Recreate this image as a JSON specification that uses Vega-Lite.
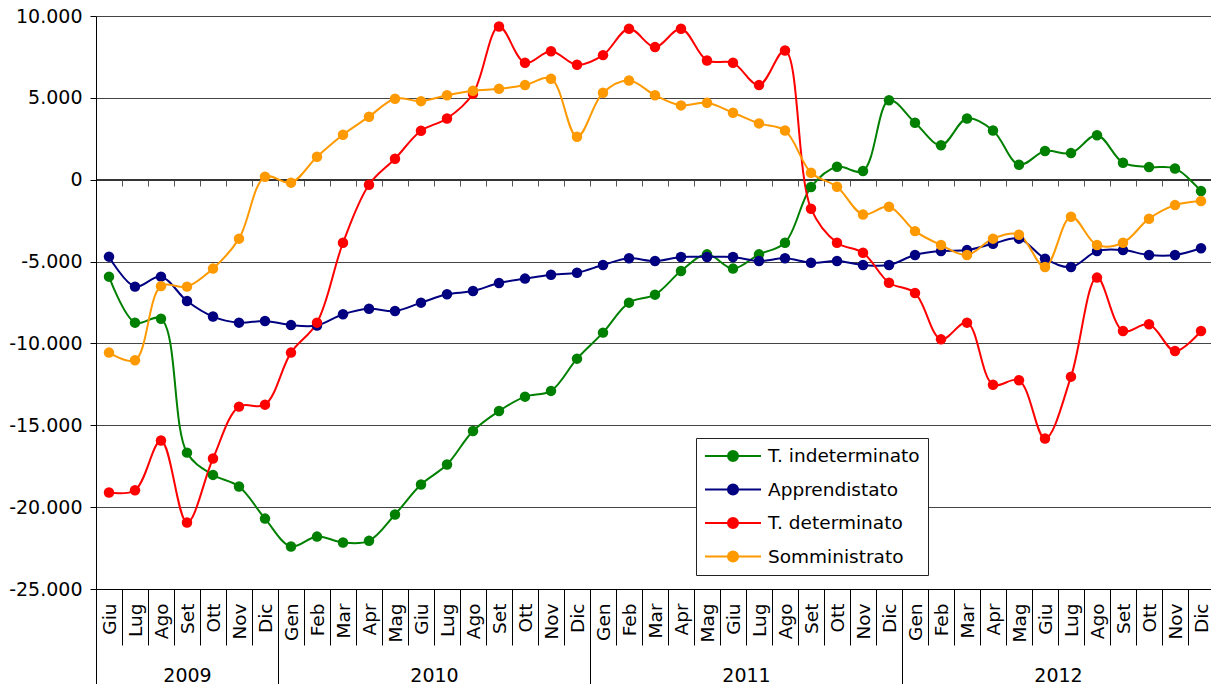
{
  "$schema": "https://vega.github.io/schema/vega-lite/v6.json",
  "autosize": "none",
  "width": 1118,
  "height": 573,
  "padding": {"left": 96, "top": 16, "right": 0, "bottom": 100},
  "background": "white",
  "config": {
    "view": {"stroke": null},
    "font": "DejaVu Sans",
    "axisY": {
      "grid": true, "gridColor": "#444444", "gridWidth": 1,
      "domainColor": "black", "tickColor": "black", "tickSize": 6,
      "labelFont": "DejaVu Sans", "labelFontSize": 19, "labelColor": "black",
      "labelPadding": 8, "title": null
    },
    "axisX": {"grid": false, "title": null}
  },
  "datasets": {
    "anni": [
      {"anno": "2009", "da": -0.5, "a": 6.5},
      {"anno": "2010", "da": 6.5, "a": 18.5},
      {"anno": "2011", "da": 18.5, "a": 30.5},
      {"anno": "2012", "da": 30.5, "a": 42.5}
    ],
    "serie": [
      {"i":0,"s":"T. indeterminato","v":-5920},{"i":1,"s":"T. indeterminato","v":-8730},{"i":2,"s":"T. indeterminato","v":-8490},{"i":3,"s":"T. indeterminato","v":-16670},{"i":4,"s":"T. indeterminato","v":-18030},{"i":5,"s":"T. indeterminato","v":-18740},{"i":6,"s":"T. indeterminato","v":-20700},{"i":7,"s":"T. indeterminato","v":-22400},{"i":8,"s":"T. indeterminato","v":-21800},{"i":9,"s":"T. indeterminato","v":-22160},{"i":10,"s":"T. indeterminato","v":-22060},{"i":11,"s":"T. indeterminato","v":-20450},{"i":12,"s":"T. indeterminato","v":-18620},{"i":13,"s":"T. indeterminato","v":-17400},{"i":14,"s":"T. indeterminato","v":-15350},{"i":15,"s":"T. indeterminato","v":-14130},{"i":16,"s":"T. indeterminato","v":-13250},{"i":17,"s":"T. indeterminato","v":-12900},{"i":18,"s":"T. indeterminato","v":-10930},{"i":19,"s":"T. indeterminato","v":-9340},{"i":20,"s":"T. indeterminato","v":-7510},{"i":21,"s":"T. indeterminato","v":-7020},{"i":22,"s":"T. indeterminato","v":-5580},{"i":23,"s":"T. indeterminato","v":-4560},{"i":24,"s":"T. indeterminato","v":-5430},{"i":25,"s":"T. indeterminato","v":-4560},{"i":26,"s":"T. indeterminato","v":-3850},{"i":27,"s":"T. indeterminato","v":-450},{"i":28,"s":"T. indeterminato","v":790},{"i":29,"s":"T. indeterminato","v":530},{"i":30,"s":"T. indeterminato","v":4850},{"i":31,"s":"T. indeterminato","v":3480},{"i":32,"s":"T. indeterminato","v":2110},{"i":33,"s":"T. indeterminato","v":3740},{"i":34,"s":"T. indeterminato","v":3010},{"i":35,"s":"T. indeterminato","v":915},{"i":36,"s":"T. indeterminato","v":1750},{"i":37,"s":"T. indeterminato","v":1625},{"i":38,"s":"T. indeterminato","v":2720},{"i":39,"s":"T. indeterminato","v":1040},{"i":40,"s":"T. indeterminato","v":770},{"i":41,"s":"T. indeterminato","v":690},{"i":42,"s":"T. indeterminato","v":-695},
      {"i":0,"s":"Apprendistato","v":-4700},{"i":1,"s":"Apprendistato","v":-6530},{"i":2,"s":"Apprendistato","v":-5920},{"i":3,"s":"Apprendistato","v":-7410},{"i":4,"s":"Apprendistato","v":-8360},{"i":5,"s":"Apprendistato","v":-8730},{"i":6,"s":"Apprendistato","v":-8630},{"i":7,"s":"Apprendistato","v":-8880},{"i":8,"s":"Apprendistato","v":-8900},{"i":9,"s":"Apprendistato","v":-8220},{"i":10,"s":"Apprendistato","v":-7880},{"i":11,"s":"Apprendistato","v":-8020},{"i":12,"s":"Apprendistato","v":-7510},{"i":13,"s":"Apprendistato","v":-7000},{"i":14,"s":"Apprendistato","v":-6800},{"i":15,"s":"Apprendistato","v":-6310},{"i":16,"s":"Apprendistato","v":-6040},{"i":17,"s":"Apprendistato","v":-5800},{"i":18,"s":"Apprendistato","v":-5680},{"i":19,"s":"Apprendistato","v":-5210},{"i":20,"s":"Apprendistato","v":-4800},{"i":21,"s":"Apprendistato","v":-4970},{"i":22,"s":"Apprendistato","v":-4720},{"i":23,"s":"Apprendistato","v":-4720},{"i":24,"s":"Apprendistato","v":-4720},{"i":25,"s":"Apprendistato","v":-4970},{"i":26,"s":"Apprendistato","v":-4800},{"i":27,"s":"Apprendistato","v":-5070},{"i":28,"s":"Apprendistato","v":-4970},{"i":29,"s":"Apprendistato","v":-5210},{"i":30,"s":"Apprendistato","v":-5210},{"i":31,"s":"Apprendistato","v":-4600},{"i":32,"s":"Apprendistato","v":-4360},{"i":33,"s":"Apprendistato","v":-4300},{"i":34,"s":"Apprendistato","v":-3910},{"i":35,"s":"Apprendistato","v":-3600},{"i":36,"s":"Apprendistato","v":-4820},{"i":37,"s":"Apprendistato","v":-5330},{"i":38,"s":"Apprendistato","v":-4360},{"i":39,"s":"Apprendistato","v":-4300},{"i":40,"s":"Apprendistato","v":-4600},{"i":41,"s":"Apprendistato","v":-4600},{"i":42,"s":"Apprendistato","v":-4190},
      {"i":0,"s":"T. determinato","v":-19110},{"i":1,"s":"T. determinato","v":-18970},{"i":2,"s":"T. determinato","v":-15930},{"i":3,"s":"T. determinato","v":-20940},{"i":4,"s":"T. determinato","v":-17030},{"i":5,"s":"T. determinato","v":-13860},{"i":6,"s":"T. determinato","v":-13740},{"i":7,"s":"T. determinato","v":-10560},{"i":8,"s":"T. determinato","v":-8730},{"i":9,"s":"T. determinato","v":-3850},{"i":10,"s":"T. determinato","v":-305},{"i":11,"s":"T. determinato","v":1280},{"i":12,"s":"T. determinato","v":2990},{"i":13,"s":"T. determinato","v":3740},{"i":14,"s":"T. determinato","v":5250},{"i":15,"s":"T. determinato","v":9360},{"i":16,"s":"T. determinato","v":7140},{"i":17,"s":"T. determinato","v":7850},{"i":18,"s":"T. determinato","v":7020},{"i":19,"s":"T. determinato","v":7610},{"i":20,"s":"T. determinato","v":9220},{"i":21,"s":"T. determinato","v":8100},{"i":22,"s":"T. determinato","v":9220},{"i":23,"s":"T. determinato","v":7280},{"i":24,"s":"T. determinato","v":7140},{"i":25,"s":"T. determinato","v":5780},{"i":26,"s":"T. determinato","v":7890},{"i":27,"s":"T. determinato","v":-1770},{"i":28,"s":"T. determinato","v":-3850},{"i":29,"s":"T. determinato","v":-4460},{"i":30,"s":"T. determinato","v":-6290},{"i":31,"s":"T. determinato","v":-6920},{"i":32,"s":"T. determinato","v":-9750},{"i":33,"s":"T. determinato","v":-8730},{"i":34,"s":"T. determinato","v":-12520},{"i":35,"s":"T. determinato","v":-12250},{"i":36,"s":"T. determinato","v":-15810},{"i":37,"s":"T. determinato","v":-12030},{"i":38,"s":"T. determinato","v":-5980},{"i":39,"s":"T. determinato","v":-9240},{"i":40,"s":"T. determinato","v":-8830},{"i":41,"s":"T. determinato","v":-10460},{"i":42,"s":"T. determinato","v":-9240},
      {"i":0,"s":"Somministrato","v":-10560},{"i":1,"s":"Somministrato","v":-11030},{"i":2,"s":"Somministrato","v":-6500},{"i":3,"s":"Somministrato","v":-6530},{"i":4,"s":"Somministrato","v":-5430},{"i":5,"s":"Somministrato","v":-3600},{"i":6,"s":"Somministrato","v":180},{"i":7,"s":"Somministrato","v":-180},{"i":8,"s":"Somministrato","v":1400},{"i":9,"s":"Somministrato","v":2750},{"i":10,"s":"Somministrato","v":3850},{"i":11,"s":"Somministrato","v":4950},{"i":12,"s":"Somministrato","v":4800},{"i":13,"s":"Somministrato","v":5160},{"i":14,"s":"Somministrato","v":5430},{"i":15,"s":"Somministrato","v":5550},{"i":16,"s":"Somministrato","v":5780},{"i":17,"s":"Somministrato","v":6170},{"i":18,"s":"Somministrato","v":2620},{"i":19,"s":"Somministrato","v":5310},{"i":20,"s":"Somministrato","v":6060},{"i":21,"s":"Somministrato","v":5160},{"i":22,"s":"Somministrato","v":4540},{"i":23,"s":"Somministrato","v":4700},{"i":24,"s":"Somministrato","v":4090},{"i":25,"s":"Somministrato","v":3440},{"i":26,"s":"Somministrato","v":3010},{"i":27,"s":"Somministrato","v":430},{"i":28,"s":"Somministrato","v":-430},{"i":29,"s":"Somministrato","v":-2120},{"i":30,"s":"Somministrato","v":-1650},{"i":31,"s":"Somministrato","v":-3140},{"i":32,"s":"Somministrato","v":-3990},{"i":33,"s":"Somministrato","v":-4600},{"i":34,"s":"Somministrato","v":-3600},{"i":35,"s":"Somministrato","v":-3360},{"i":36,"s":"Somministrato","v":-5330},{"i":37,"s":"Somministrato","v":-2260},{"i":38,"s":"Somministrato","v":-3990},{"i":39,"s":"Somministrato","v":-3850},{"i":40,"s":"Somministrato","v":-2380},{"i":41,"s":"Somministrato","v":-1550},{"i":42,"s":"Somministrato","v":-1300}
    ]
  },
  "resolve": {"axis": {"x": "independent"}},
  "layer": [
    {
      "data": {"name": "anni"},
      "mark": {"type": "rule", "color": "black", "strokeWidth": 1},
      "encoding": {
        "x": {
          "field": "da", "type": "quantitative",
          "scale": {"domain": [-0.5, 42.5], "nice": false, "zero": false},
          "axis": {
            "orient": "bottom",
            "values": [-0.5, 6.5, 18.5, 30.5],
            "domain": false,
            "ticks": true, "tickSize": 100, "tickColor": "black", "tickWidth": 1,
            "labelExpr": "datum.value < 0 ? '2009' : datum.value < 10 ? '2010' : datum.value < 20 ? '2011' : '2012'",
            "labelOffset": {"expr": "datum.value < 0 ? 91 : 156"},
            "labelAngle": 0, "labelAlign": "center", "labelBaseline": "middle",
            "labelPadding": -14, "labelFont": "DejaVu Sans", "labelFontSize": 19, "labelColor": "black",
            "labelOverlap": false, "labelBound": false, "labelFlush": false
          }
        },
        "x2": {"field": "a"},
        "y": {"datum": 0, "type": "quantitative"}
      }
    },
    {
      "data": {"name": "serie"},
      "mark": {"type": "line", "interpolate": "catmull-rom", "strokeWidth": 2},
      "encoding": {
        "x": {
          "field": "i", "type": "quantitative",
          "scale": {"domain": [-0.5, 42.5], "nice": false, "zero": false},
          "axis": {
            "orient": "bottom",
            "values": [-0.5,0.5,1.5,2.5,3.5,4.5,5.5,6.5,7.5,8.5,9.5,10.5,11.5,12.5,13.5,14.5,15.5,16.5,17.5,18.5,19.5,20.5,21.5,22.5,23.5,24.5,25.5,26.5,27.5,28.5,29.5,30.5,31.5,32.5,33.5,34.5,35.5,36.5,37.5,38.5,39.5,40.5,41.5],
            "domain": true, "domainColor": "black",
            "ticks": true, "tickSize": 56, "tickColor": "black", "tickWidth": 1,
            "labelExpr": "['Gen','Feb','Mar','Apr','Mag','Giu','Lug','Ago','Set','Ott','Nov','Dic'][(datum.value + 5.5) % 12]",
            "labelOffset": 13,
            "labelAngle": 270, "labelAlign": "right", "labelBaseline": "middle",
            "labelPadding": -42, "labelFont": "DejaVu Sans", "labelFontSize": 18.5, "labelColor": "black",
            "labelOverlap": false, "labelBound": false, "labelFlush": false
          }
        },
        "y": {
          "field": "v", "type": "quantitative",
          "scale": {"domain": [-25000, 10000], "nice": false},
          "axis": {
            "values": [-25000, -20000, -15000, -10000, -5000, 0, 5000, 10000],
            "labelExpr": "(datum.value < 0 ? '-' : '') + replace(format(abs(datum.value), ','), ',', '.')"
          }
        },
        "color": {
          "field": "s", "type": "nominal",
          "scale": {
            "domain": ["T. indeterminato", "Apprendistato", "T. determinato", "Somministrato"],
            "range": ["#008000", "#000080", "#FF0000", "#FF9900"]
          },
          "legend": {
            "title": null, "orient": "none", "legendX": 600, "legendY": 422,
            "fillColor": "white", "strokeColor": "#222222", "padding": 8,
            "symbolType": "M-1,0L1,0M-0.18,0A0.18,0.18 0 1,1 0.18,0A0.18,0.18 0 1,1 -0.18,0Z",
            "symbolSize": 3136, "symbolStrokeWidth": 2, "symbolOpacity": 1,
            "clipHeight": 20, "rowPadding": 13.5, "labelOffset": 6,
            "labelFont": "DejaVu Sans", "labelFontSize": 18.5, "labelColor": "black",
            "encode": {"symbols": {"update": {
              "fill": {"scale": "color", "field": "value"},
              "stroke": {"scale": "color", "field": "value"},
              "opacity": {"value": 1}
            }}}
          }
        }
      }
    },
    {
      "data": {"name": "serie"},
      "mark": {"type": "point", "filled": true, "size": 110, "opacity": 1},
      "encoding": {
        "x": {
          "field": "i", "type": "quantitative",
          "scale": {"domain": [-0.5, 42.5], "nice": false, "zero": false},
          "axis": {
            "orient": "bottom", "offset": -409,
            "values": [-0.5,0.5,1.5,2.5,3.5,4.5,5.5,6.5,7.5,8.5,9.5,10.5,11.5,12.5,13.5,14.5,15.5,16.5,17.5,18.5,19.5,20.5,21.5,22.5,23.5,24.5,25.5,26.5,27.5,28.5,29.5,30.5,31.5,32.5,33.5,34.5,35.5,36.5,37.5,38.5,39.5,40.5,41.5],
            "domain": false, "labels": false,
            "ticks": true, "tickSize": 6, "tickColor": "#555555", "tickWidth": 1
          }
        },
        "y": {"field": "v", "type": "quantitative"},
        "color": {"field": "s", "type": "nominal"}
      }
    }
  ]
}
